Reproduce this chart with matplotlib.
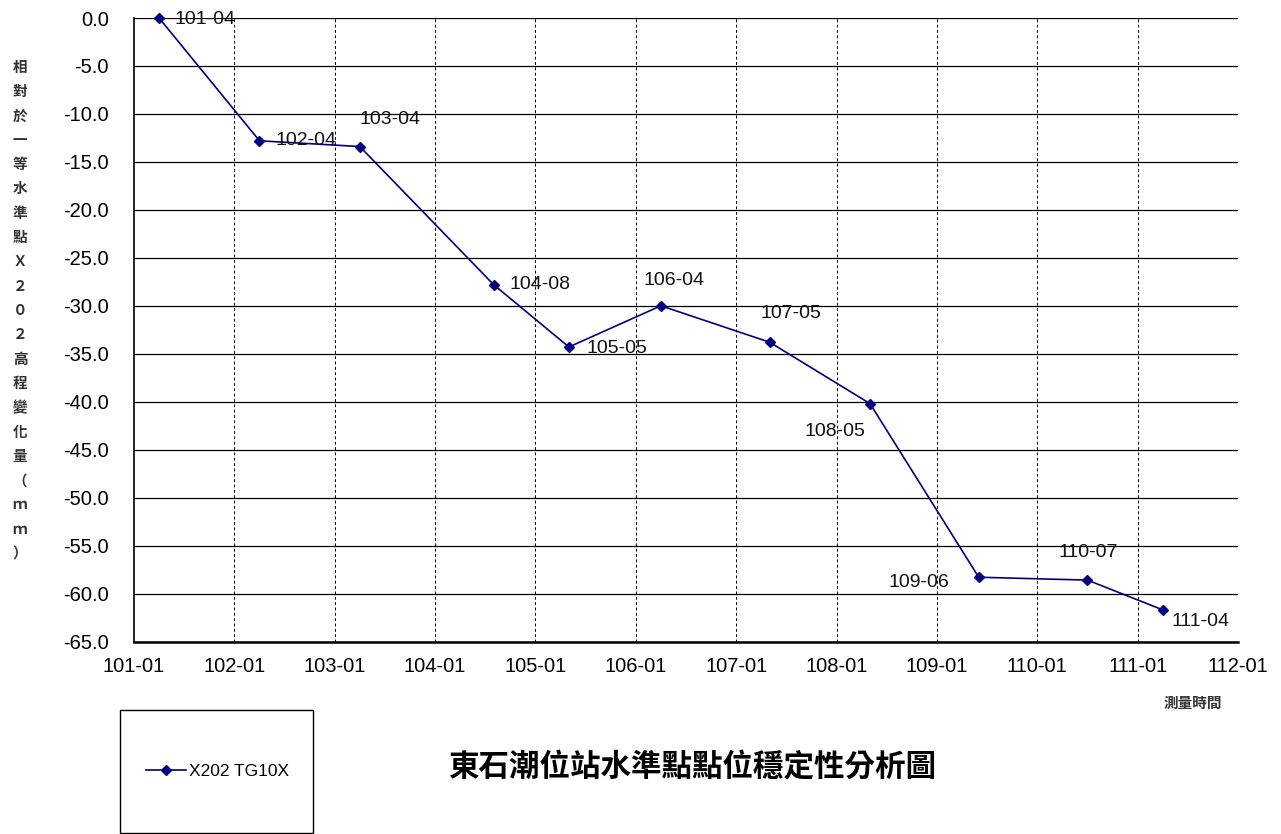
import matplotlib
matplotlib.use("Agg")
import matplotlib.pyplot as plt
from matplotlib.patches import Rectangle
from matplotlib.lines import Line2D

plt.rcParams["font.family"] = ["Liberation Sans", "Noto Sans CJK TC", "DejaVu Sans"]

# ----- data
point_labels = ["101-04", "102-04", "103-04", "104-08", "105-05", "106-04",
                "107-05", "108-05", "109-06", "110-07", "111-04"]
height_change = [0.0, -12.8, -13.4, -27.8, -34.3, -30.0,
                 -33.8, -40.2, -58.3, -58.6, -61.7]
series_name = "X202 TG10X"
year_ticks = list(range(101, 113))
y_ticks = list(range(-65, 1, 5))
title = "東石潮位站水準點點位穩定性分析圖"
x_title = "測量時間"
y_title = "相對於一等水準點Ｘ２０２高程變化量（ｍｍ）"

# label offsets in pixels (left edge, vertical centre) relative to each point
label_offsets = [(15, -2), (16, 0), (0, 27), (16, 0), (18, -1), (-17, 25),
                 (-9, 29), (-65, -28), (-90, -5), (-29, 28), (9, -12)]

# x position = ROC year + (month - 1) / 12
x_pos = [int(s[:3]) + (int(s[4:]) - 1) / 12.0 for s in point_labels]

W, H = 1281, 834
fig = plt.figure(figsize=(W / 100, H / 100), dpi=100)
ax = fig.add_axes([134 / W, 1 - 641.5 / H, (1238 - 134) / W, (641.5 - 18) / H])

line_color = "#000080"
ax.plot(x_pos, height_change, color=line_color, lw=1.2, marker="D",
        markersize=5, zorder=5, clip_on=False)

for xv, yv, lab, (dx, dy) in zip(x_pos, height_change, point_labels, label_offsets):
    ax.annotate(lab, (xv, yv), xytext=(dx, dy), textcoords="offset pixels",
                ha="left", va="center", fontsize=14, color="#111111", zorder=6)

ax.set_xlim(101, 112)
ax.set_ylim(-65, 0)
ax.set_xticks(year_ticks)
ax.set_xticklabels(["%d-01" % y for y in year_ticks], fontsize=14.5)
ax.set_yticks(y_ticks)
ax.set_yticklabels(["%.1f" % v for v in y_ticks], fontsize=14.5)
ax.tick_params(axis="both", length=0)
ax.tick_params(axis="x", pad=11)
ax.tick_params(axis="y", pad=18)

# gridlines: solid horizontal, dashed vertical
ax.yaxis.grid(True, color="black", lw=0.9, linestyle="-")
for yr in year_ticks[1:-1]:
    ax.axvline(yr, color="black", lw=0.7, linestyle=(0, (3, 2.5)), zorder=1)
ax.set_axisbelow(True)

for side in ["top", "right"]:
    ax.spines[side].set_visible(False)
ax.spines["left"].set_linewidth(1.2)
ax.spines["bottom"].set_linewidth(1.8)

# vertical y-axis title, one character per row
for i, ch in enumerate(y_title):
    fig.text(20 / W, 1 - (68 + i * 24.3) / H, ch, ha="center", va="center",
             fontsize=10.5, fontweight="bold", color="#333333")

fig.text(1193 / W, 1 - 704 / H, x_title, ha="center", va="center",
         fontsize=10.5, fontweight="bold", color="#333333")

fig.text(692 / W, 1 - 768 / H, title, ha="center", va="center",
         fontsize=22, fontweight="bold", color="black")

# legend box
fig.patches.append(Rectangle((119.5 / W, 1 - 833 / H), (313 - 119.5) / W,
                             (833 - 709.5) / H, transform=fig.transFigure,
                             fill=False, edgecolor="black", lw=1.0))
handle = Line2D([], [], color=line_color, lw=1.2, marker="D", markersize=5)
fig.legend([handle], [series_name], loc="center left",
           bbox_to_anchor=(146 / W, 1 - 771 / H), frameon=False, fontsize=12.5,
           handlelength=2.3, handletextpad=0.2, borderpad=0, borderaxespad=0)

fig.savefig("out.png", dpi=100)
